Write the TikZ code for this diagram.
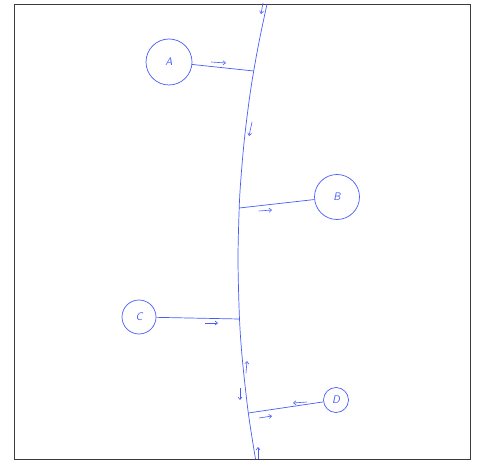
\documentclass[tikz,border=0pt]{standalone}
\usetikzlibrary{arrows.meta}
\definecolor{pen}{RGB}{72,92,250}
\definecolor{frame}{RGB}{60,60,60}
\begin{document}
\begin{tikzpicture}[x=1pt,y=-1pt,
  pen/.style={draw=pen,line width=0.7pt},
  ball/.style={circle,draw=pen,line width=0.7pt,inner sep=0pt,text=pen,font=\sffamily\itshape\fontsize{11}{11}\selectfont},
  flow/.style={draw=pen,line width=0.6pt,-{Straight Barb[length=2.5pt,width=4pt]}}]
\useasboundingbox (0,0) rectangle (481,462);
\draw[frame,line width=0.9pt] (14,4) rectangle (470,459);
% boundary curve
\coordinate (pA) at (253.7,71);
\coordinate (pB) at (239.2,208);
\coordinate (pC) at (239.5,319);
\coordinate (pD) at (248.3,413);
\draw[pen] plot[smooth] coordinates {(267,4) (259.4,40) (253.7,71) (249.2,100) (244.3,140) (240.8,180) (239.2,208) (238,260) (239.5,319) (242.4,360) (248.3,413) (255.5,459)};
% nodes
\node[ball,minimum size=46pt] (A) at (169,62) {A};
\node[ball,minimum size=45pt] (B) at (337,197) {B};
\node[ball,minimum size=34pt] (C) at (139,317) {C};
\node[ball,minimum size=25pt] (D) at (336,400) {D};
% connectors
\draw[pen] (A) -- (pA);
\draw[pen] (B) -- (pB);
\draw[pen] (C) -- (pC);
\draw[pen] (D) -- (pD);
% flow marks
\coordinate (a1) at (211,62); \coordinate (a2) at (226,63);
\coordinate (b1) at (259,211); \coordinate (b2) at (272,210);
\coordinate (c1) at (205,323); \coordinate (c2) at (218,323);
\coordinate (d1) at (307,402); \coordinate (d2) at (293,403);
\coordinate (e1) at (259,418); \coordinate (e2) at (272,416);
\coordinate (f1) at (263,3); \coordinate (f2) at (261,14);
\coordinate (g1) at (252,122); \coordinate (g2) at (249,136);
\coordinate (h1) at (246,373); \coordinate (h2) at (247,361);
\coordinate (i1) at (240,388); \coordinate (i2) at (240,400);
\coordinate (j1) at (258,459); \coordinate (j2) at (258,447);
\foreach \s/\t in {a1/a2,b1/b2,c1/c2,d1/d2,e1/e2,f1/f2,g1/g2,h1/h2,i1/i2,j1/j2}
  \draw[flow] (\s) -- (\t);
\end{tikzpicture}
\end{document}
